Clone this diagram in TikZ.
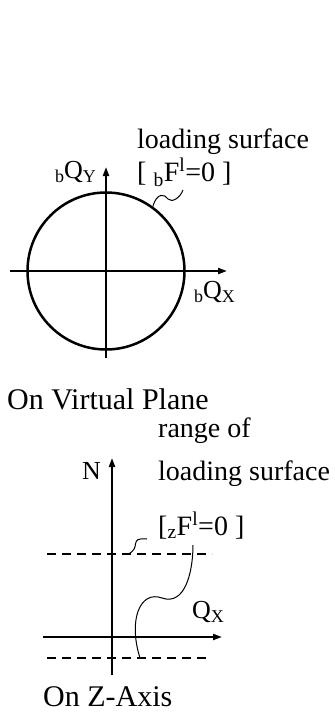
\documentclass[tikz,border=0pt]{standalone}
\usepackage{fontspec}
\setmainfont{Liberation Serif}
\usetikzlibrary{arrows.meta}
\newcommand{\lowidx}[1]{\raisebox{-4pt}{\fontsize{18}{18}\selectfont #1}}
\tikzset{
  axis/.style={line width=2pt,-{Triangle[length=9pt,width=6pt]}},
  rangeline/.style={line width=2pt,dash pattern=on 9pt off 6pt},
  leader/.style={line width=1pt},
  lbl/.style={inner sep=0pt,font=\fontsize{28}{32}\selectfont},
  caption/.style={inner sep=0pt,font=\fontsize{30}{34}\selectfont},
  axlbl/.style={inner sep=0pt,font=\fontsize{26}{30}\selectfont},
}
\begin{document}
\begin{tikzpicture}[x=1pt,y=-1pt]
  \useasboundingbox (0,0) rectangle (335,713);
  \node (surf) [circle,draw,line width=2.5pt,minimum size=157pt,inner sep=0pt] at (106,271) {};
  \coordinate (qxl) at (10,271);
  \coordinate (qxr) at (227,271);
  \coordinate (qyb) at (106,358);
  \coordinate (qyt) at (106,167);
  \draw[axis] (qxl) -- (qxr);
  \draw[axis] (qyb) -- (qyt);
  \node (qy) [axlbl,anchor=base east] at (96,178) {\lowidx{b}Q\lowidx{Y}};
  \node (qx) [axlbl,anchor=base west] at (194,298) {\lowidx{b}Q\lowidx{X}};
  \node (surfname) [lbl,anchor=base west] at (137,148) {loading surface};
  \node (surfeq) [lbl,anchor=base west] at (137,181) {[ \textsubscript{b}F\textsuperscript{l}=0 ]};
  \coordinate (surftip) at (183,190);
  \draw[leader] (surf.54) .. controls (157,192) and (165,194) .. (168,199)
    .. controls (172,203) and (180,198) .. (surftip);
  \node (plane) [caption,anchor=base west] at (7,409) {On Virtual Plane};
  \coordinate (zxl) at (43,637);
  \coordinate (zxr) at (222,637);
  \coordinate (znb) at (112,675);
  \coordinate (znt) at (112,458);
  \draw[axis] (zxl) -- (zxr);
  \draw[axis] (znb) -- (znt);
  \coordinate (uppl) at (47,554);
  \coordinate (uppr) at (212,554);
  \coordinate (lowl) at (47,658);
  \coordinate (lowr) at (209,658);
  \draw[rangeline] (uppl) -- (uppr);
  \draw[rangeline] (lowl) -- (lowr);
  \node (n) [axlbl,anchor=base east] at (101,479) {N};
  \node (zqx) [axlbl,anchor=base west] at (192,618) {Q\lowidx{X}};
  \node (range) [lbl,anchor=base west] at (158,437) {range of};
  \node (rangename) [lbl,anchor=base west] at (158,480) {loading surface};
  \node (rangeeq) [lbl,anchor=base west] at (158,535) {[\textsubscript{z}F\textsuperscript{l}=0 ]};
  \coordinate (upphit) at (128,554);
  \coordinate (upptip) at (147,539);
  \coordinate (lowhit) at (140,658);
  \coordinate (lowtip) at (193,545);
  \draw[leader] (upphit) .. controls (142,548) and (128,537) .. (upptip);
  \draw[leader] (lowhit) .. controls (128,620) and (140,590) .. (162,598)
    .. controls (185,606) and (193,572) .. (lowtip);
  \node (zaxis) [caption,anchor=base west] at (43,706) {On Z-Axis};
\end{tikzpicture}
\end{document}
